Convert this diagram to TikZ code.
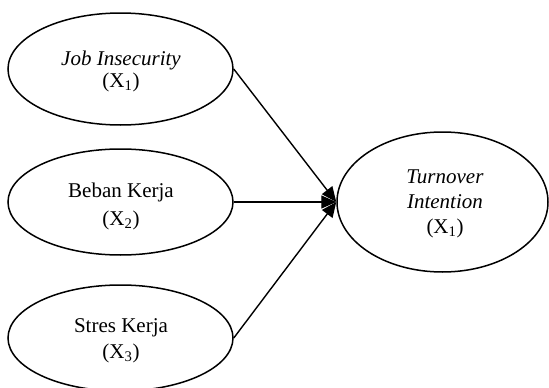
\documentclass[tikz,border=0pt]{standalone}
\usepackage{fontspec}
\setmainfont{Liberation Serif}
\usetikzlibrary{arrows.meta,shapes.geometric}
\begin{document}
\begin{tikzpicture}[x=1pt,y=-1pt,
  ell/.style={draw, ellipse, line width=1.5pt, inner sep=0pt},
  lbl/.style={align=center, inner sep=0pt, font=\fontsize{21}{25}\selectfont},
  conn/.style={line width=1.4pt, -{Triangle[length=15pt,width=13pt]}}]
\useasboundingbox (0,0) rectangle (549,388);
\clip (0,0) rectangle (549,388);
\node[ell, minimum width=225pt, minimum height=112pt] (x1) at (120.5,69) {};
\node[ell, minimum width=225pt, minimum height=106pt] (x2) at (120.5,202) {};
\node[ell, minimum width=225pt, minimum height=106pt] (x3) at (120.5,338) {};
\node[ell, minimum width=211pt, minimum height=140pt] (y) at (442.5,202) {};
\node[lbl, font=\fontsize{21}{22}\selectfont] (t1) at (121,71) {\textit{Job Insecurity}\\(X\textsubscript{1})};
\node[lbl, font=\fontsize{21}{28}\selectfont] (t2) at (121,206) {Beban Kerja\\(X\textsubscript{2})};
\node[lbl, font=\fontsize{21}{26}\selectfont] (t3) at (121,341) {Stres Kerja\\(X\textsubscript{3})};
\node[lbl, font=\fontsize{21}{25}\selectfont] (ty) at (445,204) {\textit{Turnover}\\\textit{Intention}\\(X\textsubscript{1})};
\draw[conn] (x1.east) -- (y.west);
\draw[conn] (x2.east) -- (y.west);
\draw[conn] (x3.east) -- (y.west);
\end{tikzpicture}
\end{document}
